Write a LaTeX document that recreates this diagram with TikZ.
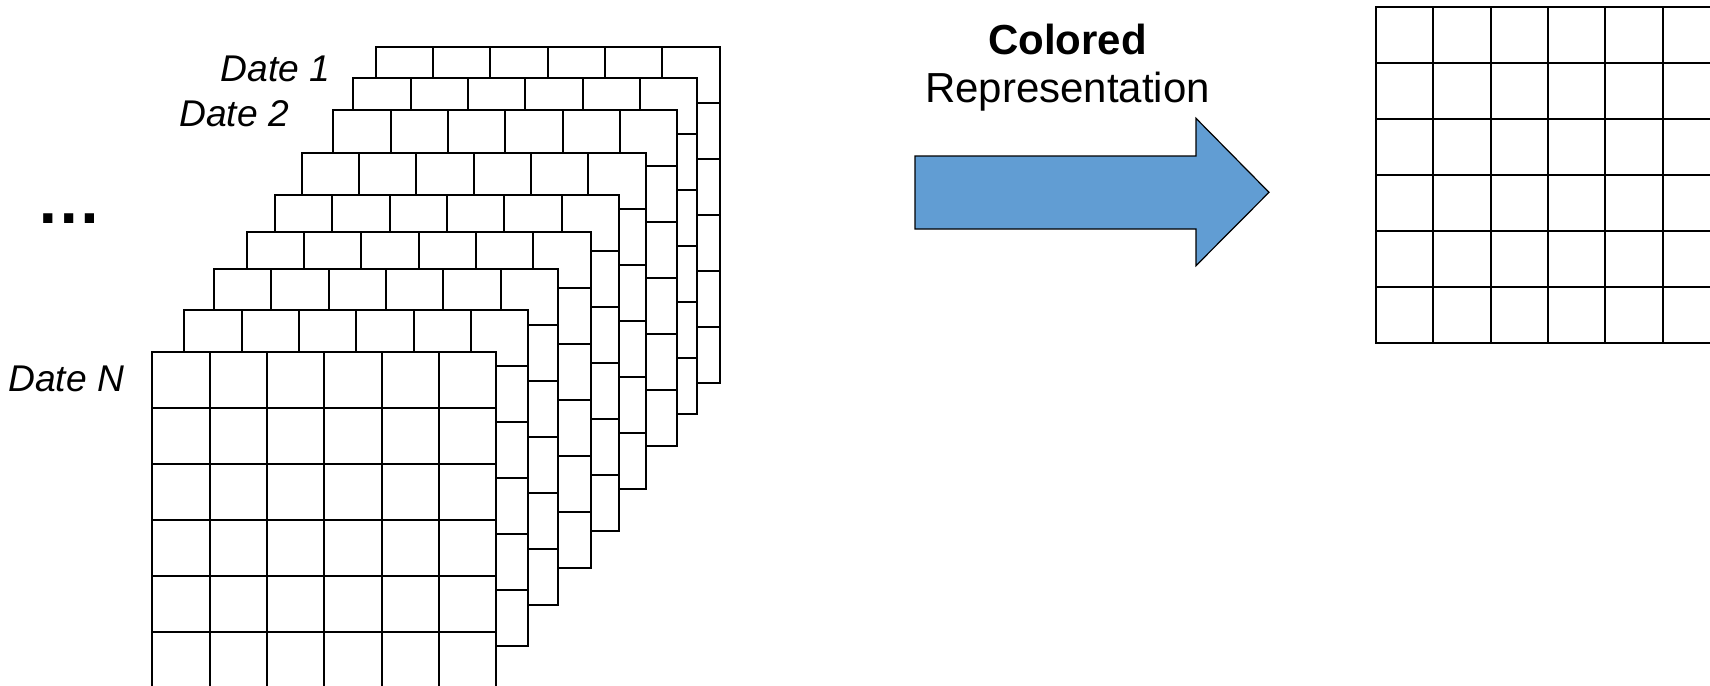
\documentclass[tikz,border=0pt]{standalone}
\usepackage{fontspec}
\setmainfont{Liberation Sans}
\definecolor{arrowblue}{RGB}{97,157,211}
\tikzset{
  gridline/.style={line width=0.95pt, draw=black},
  datelabel/.style={font=\fontsize{18.6}{22}\selectfont\itshape, inner sep=0pt},
  titlelabel/.style={font=\fontsize{21}{25}\selectfont, inner sep=0pt},
  bigarrow/.style={fill=arrowblue, draw=black, line width=0.6pt, line join=miter},
}
% one 6x6 image grid, cells 344/6 wide and 56 high, top-left corner at (#1,#2)
\newcommand\imagegrid[2]{%
  \begin{scope}[shift={(#1,#2)}]
    \fill[white] (0,0) rectangle (344,336);
    \foreach \i in {1,...,5} \draw[gridline] ({\i*344/6},0) -- ({\i*344/6},336);
    \foreach \j in {1,...,5} \draw[gridline] (0,{\j*56}) -- (344,{\j*56});
    \draw[gridline] (0,0) rectangle (344,336);
  \end{scope}}
\begin{document}
\begin{tikzpicture}[x=0.5pt, y=-0.5pt]
  \useasboundingbox (0,0) rectangle (1710,686);
  \clip (0,0) rectangle (1710,686);

  % stack of dated grids, drawn from the oldest (back) to the newest (front)
  \imagegrid{375.7}{46.7}
  \imagegrid{353.3}{78.3}
  \imagegrid{333.3}{110}
  \imagegrid{301.7}{153.3}
  \imagegrid{275}{195}
  \imagegrid{246.7}{231.7}
  \imagegrid{214}{269.3}
  \imagegrid{184.3}{310}
  \imagegrid{152.3}{352.3}

  % labels of the stack
  \node[datelabel, anchor=base west] (date1) at (220.5,81.7) {Date 1};
  \node[datelabel, anchor=base west] (date2) at (179,126.7) {Date 2};
  \node[datelabel, anchor=base west] (dateN) at (8,391.7) {Date N};
  \node[font=\fontsize{32.7}{36}\selectfont\bfseries, inner sep=0pt, anchor=base west] (dots) at (36,223) {…};

  % transformation arrow and its caption
  \draw[bigarrow] (915,156) -- (1196,156) -- (1196,118.3) -- (1269,192.3)
    -- (1196,265.7) -- (1196,229) -- (915,229) -- cycle;
  \node[titlelabel, font=\fontsize{21}{25}\selectfont\bfseries, anchor=base] (colored) at (1067.5,54.3) {Colored};
  \node[titlelabel, anchor=base] (repr) at (1067.5,102.3) {Representation};

  % resulting single grid
  \imagegrid{1376}{7.3}
\end{tikzpicture}
\end{document}
